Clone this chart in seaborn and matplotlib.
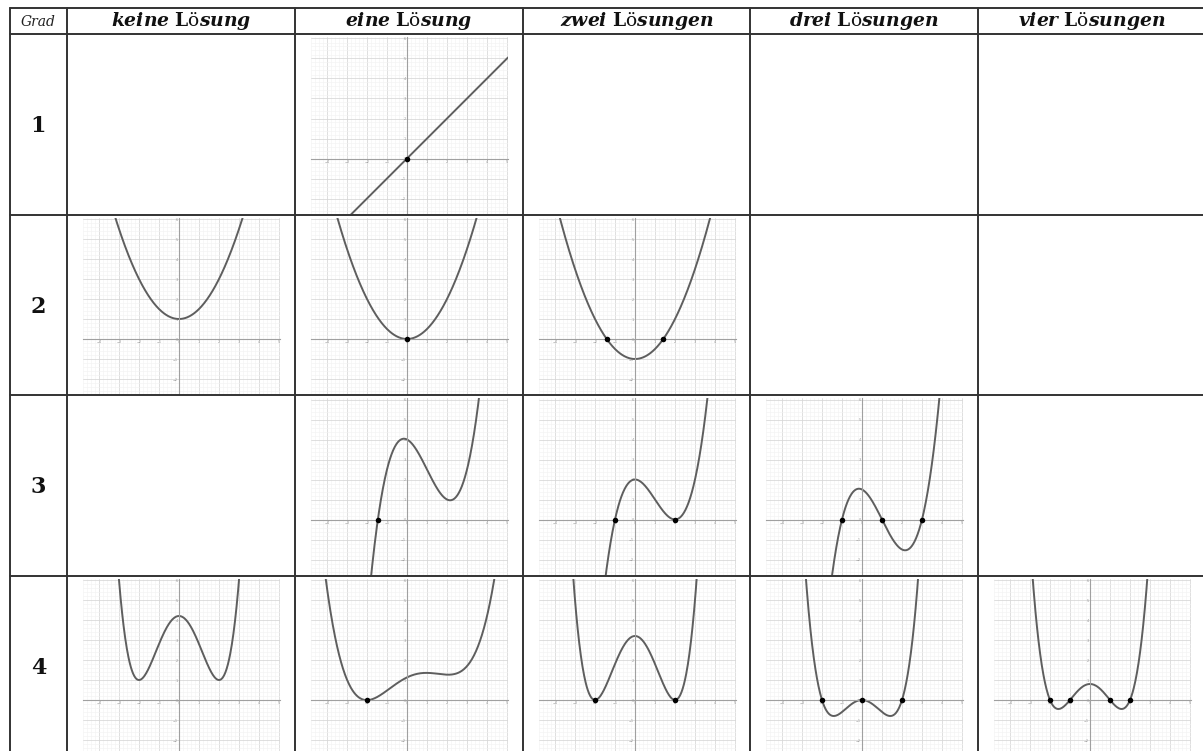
import numpy as np
import matplotlib.pyplot as plt
import seaborn as sns
from matplotlib.ticker import MultipleLocator

sns.set_theme(style="white")
plt.rcParams['mathtext.fontset'] = 'dejavuserif'

# header texts
grad_label = "Grad"
column_titles = [
    r"$\mathbfit{keine}\ \mathbf{L}\mathrm{ö}\mathbfit{sung}$",
    r"$\mathbfit{eine}\ \mathbf{L}\mathrm{ö}\mathbfit{sung}$",
    r"$\mathbfit{zwei}\ \mathbf{L}\mathrm{ö}\mathbfit{sungen}$",
    r"$\mathbfit{drei}\ \mathbf{L}\mathrm{ö}\mathbfit{sungen}$",
    r"$\mathbfit{vier}\ \mathbf{L}\mathrm{ö}\mathbfit{sungen}$",
]
degrees = ["1", "2", "3", "4"]

# polynomial coefficients (highest power first),
# plus the x values of the marked zeros
deg1_eine = [1, 0]
deg1_eine_x0 = [0]

deg2_keine = [0.5, 0, 1]
deg2_keine_x0 = []
deg2_eine = [0.5, 0, 0]
deg2_eine_x0 = [0]
deg2_zwei = [0.5, 0, -1]
deg2_zwei_x0 = [-1.414, 1.414]

deg3_eine = [0.5, -1.5, -0.5, 4]
deg3_eine_x0 = [-1.455]
deg3_zwei = [0.5, -1.5, 0, 2]
deg3_zwei_x0 = [-1, 2]
deg3_drei = [0.5, -1.5, -0.5, 1.5]
deg3_drei_x0 = [-1, 1, 3]

deg4_keine = [0.2, 0, -1.6, 0, 4.2]
deg4_keine_x0 = []
deg4_eine = [0.03, -0.041, -0.245, 0.482, 1.13]
deg4_eine_x0 = [-2]
deg4_zwei = [0.2, 0, -1.6, 0, 3.2]
deg4_zwei_x0 = [-2, 2]
deg4_drei = [0.2, 0, -0.8, 0, 0]
deg4_drei_x0 = [-2, 0, 2]
deg4_vier = [0.2, 0, -1, 0, 0.8]
deg4_vier_x0 = [-2, -1, 1, 2]

# (row, column, coefficients, zeros)
cells = [
    (0, 1, deg1_eine, deg1_eine_x0),
    (1, 0, deg2_keine, deg2_keine_x0),
    (1, 1, deg2_eine, deg2_eine_x0),
    (1, 2, deg2_zwei, deg2_zwei_x0),
    (2, 1, deg3_eine, deg3_eine_x0),
    (2, 2, deg3_zwei, deg3_zwei_x0),
    (2, 3, deg3_drei, deg3_drei_x0),
    (3, 0, deg4_keine, deg4_keine_x0),
    (3, 1, deg4_eine, deg4_eine_x0),
    (3, 2, deg4_zwei, deg4_zwei_x0),
    (3, 3, deg4_drei, deg4_drei_x0),
    (3, 4, deg4_vier, deg4_vier_x0),
]

# table geometry in pixels
W, H = 1203, 751
col_x = [10, 67, 295, 523, 750, 978, 1206]
row_y = [8, 34, 214.5, 395, 575.5, 756]
unit = 20.0          # pixels per unit in the small graphs
x_lo, x_hi = -4.8, 5.05

fig = plt.figure(figsize=(W / 100, H / 100), dpi=100)
fig.patch.set_facecolor("white")


def px_axes(x0, y0, x1, y1, **kw):
    return fig.add_axes([x0 / W, 1 - y1 / H, (x1 - x0) / W, (y1 - y0) / H], **kw)


for row, col, coeffs, zeros in cells:
    left = col_x[col + 1] + 16
    right = left + (x_hi - x_lo) * unit
    top = row_y[row + 1] + 3
    bottom = min(row_y[row + 2] - 1, H)
    y_hi = 121.5 / unit
    y_lo = -(bottom - top - 121.5) / unit
    a = px_axes(left, top, right, bottom)
    a.set_facecolor("white")
    a.set_xlim(x_lo, x_hi)
    a.set_ylim(y_lo, y_hi)
    a.xaxis.set_major_locator(MultipleLocator(1))
    a.yaxis.set_major_locator(MultipleLocator(1))
    a.xaxis.set_minor_locator(MultipleLocator(0.2))
    a.yaxis.set_minor_locator(MultipleLocator(0.2))
    a.grid(which="minor", color="#f2f2f2", lw=0.4)
    a.grid(which="major", color="#d6d6d6", lw=0.55)
    a.set_axisbelow(True)
    for s in ["top", "right"]:
        a.spines[s].set_visible(False)
    for s in ["left", "bottom"]:
        a.spines[s].set_position(("data", 0))
        a.spines[s].set_color("#a0a0a0")
        a.spines[s].set_linewidth(0.8)
    a.tick_params(which="both", length=0, labelsize=2.5, labelcolor="#999999", pad=1)

    xs = np.linspace(x_lo, x_hi, 500)
    sns.lineplot(x=xs, y=np.polyval(coeffs, xs), ax=a, color="#5e5e5e", lw=1.4, sort=False)
    if zeros:
        sns.scatterplot(x=zeros, y=[0] * len(zeros), ax=a, color="black", s=16,
                        edgecolor="black", linewidth=0, zorder=5)
    a.set_xlabel("")
    a.set_ylabel("")

# table lines and texts on top
t = px_axes(0, 0, W, H, zorder=10)
t.set_xlim(0, W)
t.set_ylim(H, 0)
t.axis("off")
t.patch.set_alpha(0)
for y in row_y:
    t.plot([col_x[0], col_x[-1]], [y, y], color="#333333", lw=1.4)
for x in col_x:
    t.plot([x, x], [row_y[0], row_y[-1]], color="#333333", lw=1.4)

head_y = (row_y[0] + row_y[1]) / 2
t.text((col_x[0] + col_x[1]) / 2, head_y + 1, grad_label, ha="center", va="center",
       fontsize=10, family="DejaVu Serif", style="italic", color="#222222")
for i, title in enumerate(column_titles):
    t.text((col_x[i + 1] + col_x[i + 2]) / 2, head_y, title, ha="center", va="center",
           fontsize=13.5, color="#111111")
for i, d in enumerate(degrees):
    t.text((col_x[0] + col_x[1]) / 2, (row_y[i + 1] + row_y[i + 2]) / 2 + 2, d,
           ha="center", va="center", fontsize=16, family="DejaVu Serif",
           weight="bold", color="#111111")

fig.savefig("out.png", dpi=100, facecolor="white")
